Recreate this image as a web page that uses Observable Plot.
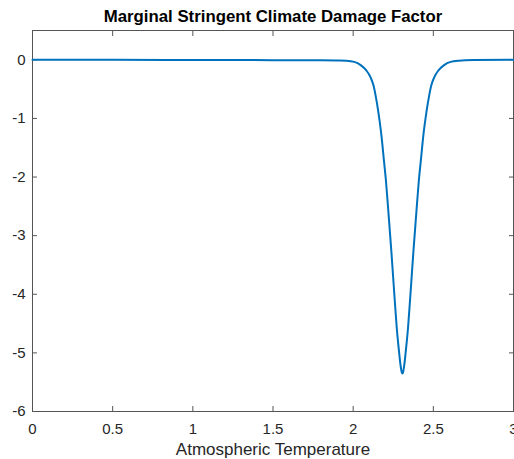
<!DOCTYPE html>
<html><head><meta charset="utf-8">
<script src="https://cdn.jsdelivr.net/npm/d3@7"></script>
<script src="https://cdn.jsdelivr.net/npm/@observablehq/plot@0.6"></script>
<style>html,body{margin:0;padding:0;background:#fff;overflow:hidden}</style>
</head><body><div id="chart"></div>
<script>
const temps = [0, 0.5, 1.0, 1.5, 1.8, 1.9, 1.957, 2.007, 2.047, 2.082, 2.107, 2.127, 2.142, 2.156, 2.175, 2.192, 2.205, 2.219, 2.238, 2.258, 2.272, 2.285, 2.295, 2.302, 2.307,
               2.312, 2.319, 2.329, 2.342, 2.356, 2.376, 2.395, 2.409, 2.422, 2.439, 2.458, 2.472, 2.487, 2.507, 2.532, 2.567, 2.607, 2.657, 2.75, 3.0];
const damage = [0, 0, -0.003, -0.006, -0.008, -0.011, -0.015, -0.035, -0.09, -0.18, -0.29, -0.44, -0.64, -0.87, -1.26, -1.72, -2.08, -2.57, -3.26, -4.05, -4.58, -4.95, -5.2, -5.32, -5.35,
                -5.32, -5.2, -4.95, -4.58, -4.05, -3.26, -2.57, -2.08, -1.72, -1.26, -0.87, -0.64, -0.44, -0.29, -0.18, -0.09, -0.035, -0.015, -0.005, 0];
const xTicks = [0, 0.5, 1, 1.5, 2, 2.5, 3];
const yTicks = [0, -1, -2, -3, -4, -5, -6];
const title = "Marginal Stringent Climate Damage Factor";
const xLabel = "Atmospheric Temperature";

const data = temps.map((t, i) => ({t, d: damage[i]}));
const axisColor = "#262626";
const chart = Plot.plot({
  width: 514, height: 459,
  marginLeft: 32, marginRight: 1, marginTop: 30, marginBottom: 48,
  x: {domain: [0, 3]},
  y: {domain: [-6, 0.5]},
  style: {fontFamily: "'Liberation Sans', Arial, Helvetica, sans-serif", fontSize: "15px", color: axisColor, background: "#fff", overflow: "visible"},
  marks: [
    Plot.frame({stroke: "#555", strokeWidth: 1}),
    Plot.axisX(xTicks, {anchor: "bottom", tickSize: -5, tickPadding: 17, tickFormat: d => String(d), label: null, stroke: "#555", fill: axisColor, fontSize: 15}),
    Plot.axisX(xTicks, {anchor: "top", tickSize: -5, tickFormat: () => "", label: null, stroke: "#555"}),
    Plot.axisY(yTicks, {anchor: "left", tickSize: -5, tickPadding: 12, tickFormat: d => String(d), label: null, stroke: "#555", fill: axisColor, fontSize: 15}),
    Plot.axisY(yTicks, {anchor: "right", tickSize: -5, tickFormat: () => "", label: null, stroke: "#555"}),
    Plot.line(data, {x: "t", y: "d", stroke: "#0072BD", strokeWidth: 2, curve: "monotone-x"}),
    Plot.text([title], {text: d => d, frameAnchor: "top", lineAnchor: "middle", dy: -14, fontWeight: "bold", fontSize: 16.8, fill: "#000"}),
    Plot.text([xLabel], {text: d => d, frameAnchor: "bottom", lineAnchor: "middle", dy: 38, fontSize: 17, fill: axisColor})
  ]
});
document.getElementById("chart").appendChild(chart);
</script>
</body></html>
